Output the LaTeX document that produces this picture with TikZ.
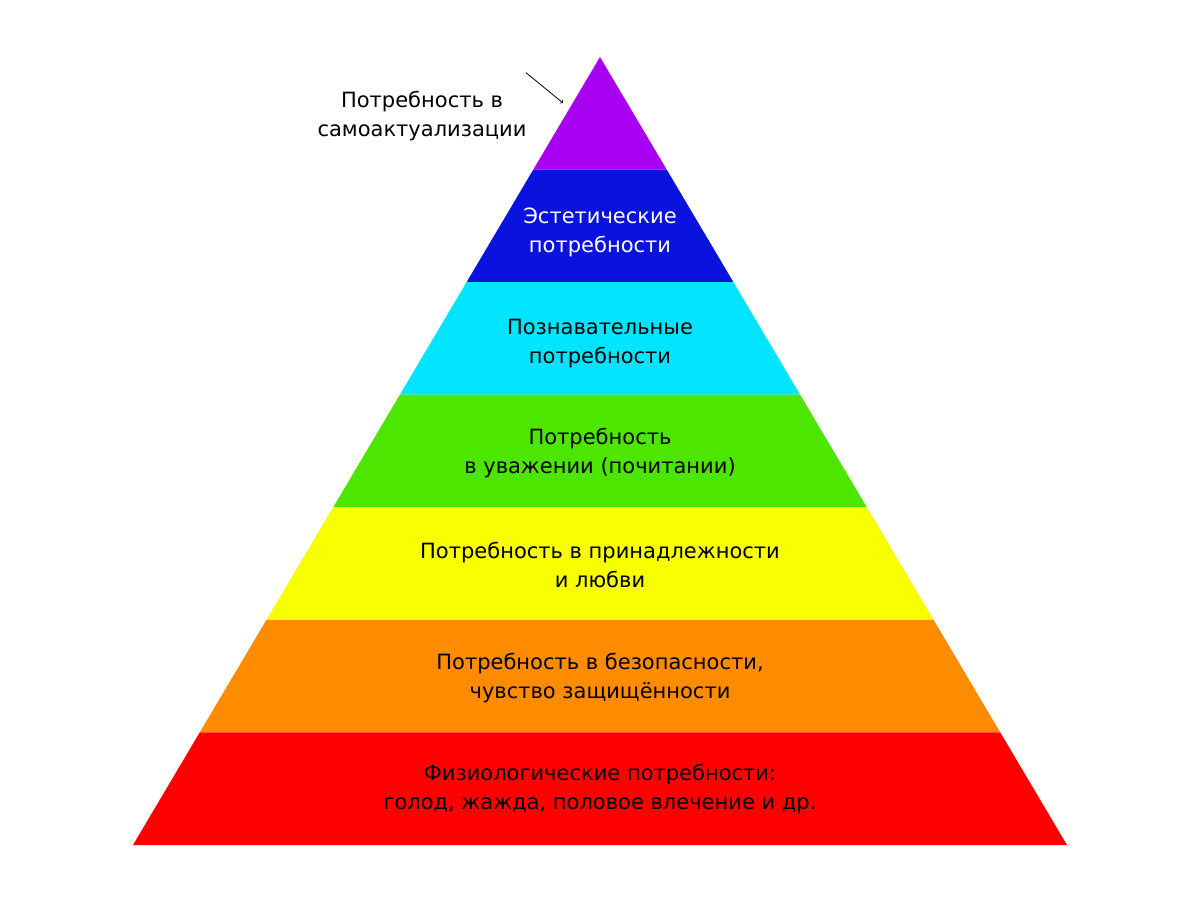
\documentclass[tikz,border=0pt]{standalone}
\usepackage{fontspec}
\setmainfont{DejaVu Sans}
\usetikzlibrary{calc}
\definecolor{lvlpurple}{RGB}{168,0,240}
\definecolor{lvlblue}{RGB}{10,18,222}
\definecolor{lvlcyan}{RGB}{0,228,255}
\definecolor{lvlgreen}{RGB}{76,230,0}
\definecolor{lvlyellow}{RGB}{248,255,0}
\definecolor{lvlorange}{RGB}{255,140,0}
\definecolor{lvlred}{RGB}{255,0,0}
\begin{document}
\begin{tikzpicture}[x=1pt,y=-1pt,
    label node/.style={align=center,font=\fontsize{21}{29}\selectfont}]
  \useasboundingbox (0,0) rectangle (1200,900);

  \coordinate (A) at (600,57);
  \coordinate (L) at (133,845);
  \coordinate (R) at (1067,845);

  % bands, top to bottom
  \foreach \c [count=\i from 0] in {lvlpurple,lvlblue,lvlcyan,lvlgreen,lvlyellow,lvlorange,lvlred}{
    \pgfmathsetmacro{\ta}{\i/7}
    \pgfmathsetmacro{\tb}{(\i+1)/7}
    \fill[\c] ($(A)!\ta!(L)$) -- ($(A)!\tb!(L)$) -- ($(A)!\tb!(R)$) -- ($(A)!\ta!(R)$) -- cycle;
  }

  % labels
  \node[label node] (top) at (422,116) {Потребность в\\самоактуализации};
  \coordinate (tip) at (563,103);
  \node[label node,text=white] (aest) at (600,232) {Эстетические\\потребности};
  \node[label node] (cogn) at (600,344) {Познавательные\\потребности};
  \node[label node] (est) at (600,453) {Потребность\\в уважении (почитании)};
  \node[label node] (love) at (600,565) {Потребность в принадлежности\\и любви};
  \node[label node] (safe) at (600,678) {Потребность в безопасности,\\чувство защищённости};
  \node[label node] (phys) at (600,789) {Физиологические потребности:\\голод, жажда, половое влечение и др.};

  \draw[->,thick] (top.north east) ++(-4,-15) coordinate (from) (from) -- (tip);
\end{tikzpicture}
\end{document}
